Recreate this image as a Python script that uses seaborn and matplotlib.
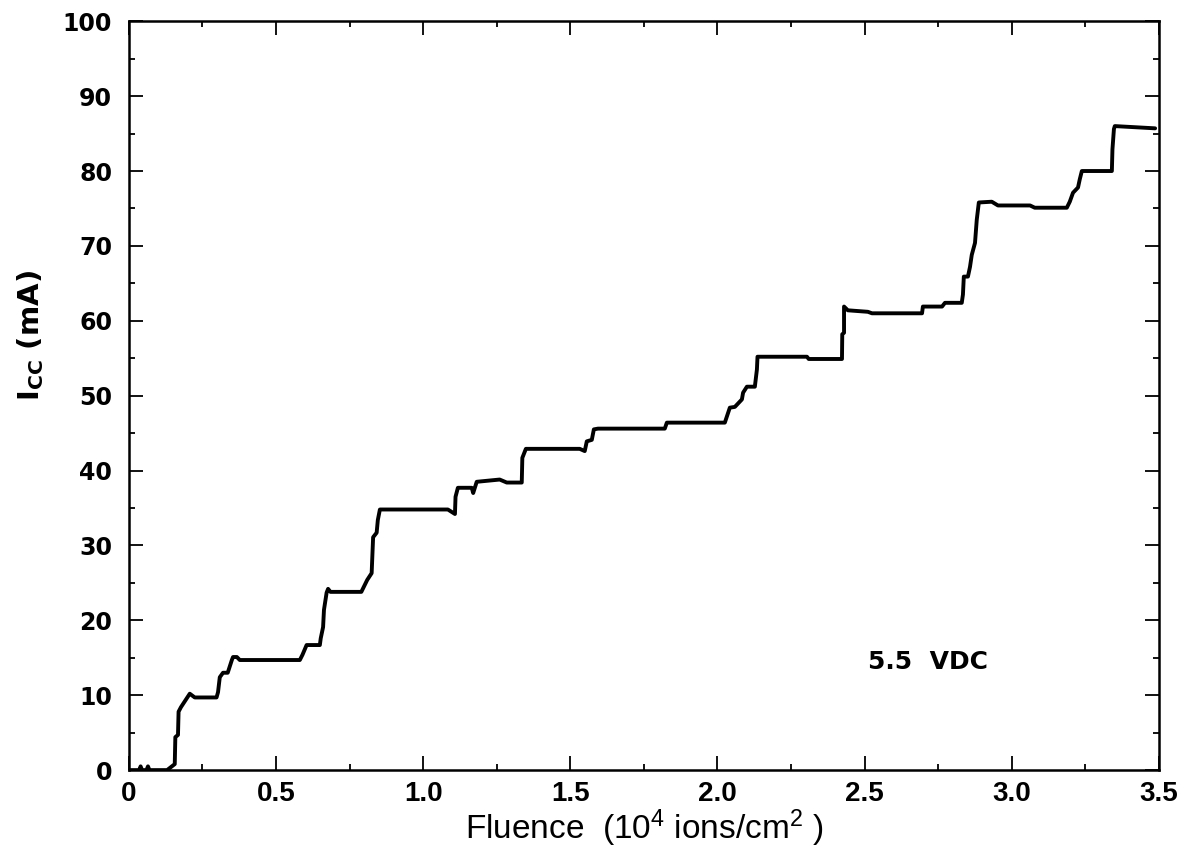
import numpy as np
import pandas as pd
import seaborn as sns
import matplotlib
matplotlib.use("Agg")
from matplotlib import pyplot as plt
from matplotlib.ticker import MultipleLocator

fluence = [0.0, 0.035, 0.04, 0.045, 0.06, 0.065, 0.07, 0.13, 0.156, 0.158,
           0.167, 0.169, 0.177, 0.207, 0.224, 0.298, 0.303, 0.309, 0.320, 0.336,
           0.350, 0.354, 0.367, 0.377, 0.581, 0.590, 0.604, 0.649, 0.652, 0.660,
           0.663, 0.672, 0.677, 0.685, 0.790, 0.810, 0.825, 0.830, 0.842, 0.846,
           0.853, 1.084, 1.108, 1.110, 1.118, 1.165, 1.170, 1.182, 1.260, 1.284,
           1.335, 1.337, 1.349, 1.532, 1.549, 1.556, 1.573, 1.580, 1.594, 1.821,
           1.828, 2.025, 2.042, 2.059, 2.083, 2.087, 2.100, 2.127, 2.134, 2.136,
           2.304, 2.310, 2.423, 2.424, 2.430, 2.430, 2.443, 2.511, 2.525, 2.695,
           2.698, 2.763, 2.773, 2.830, 2.834, 2.837, 2.851, 2.858, 2.864, 2.875,
           2.881, 2.888, 2.932, 2.953, 3.062, 3.078, 3.187, 3.197, 3.208, 3.225,
           3.231, 3.238, 3.340, 3.342, 3.347, 3.350, 3.487]
icc = [0.0, 0.0, 0.5, 0.0, 0.0, 0.5, 0.0, 0.0, 0.8, 4.4,
       4.7, 7.8, 8.4, 10.2, 9.7, 9.7, 10.4, 12.4, 13.0, 13.0,
       14.7, 15.1, 15.1, 14.7, 14.7, 15.4, 16.7, 16.7, 17.6, 19.1,
       21.4, 23.7, 24.2, 23.8, 23.8, 25.4, 26.3, 31.1, 31.7, 33.4,
       34.8, 34.8, 34.2, 36.5, 37.7, 37.7, 37.0, 38.5, 38.8, 38.4,
       38.4, 41.7, 42.9, 42.9, 42.6, 43.9, 44.1, 45.5, 45.6, 45.6,
       46.4, 46.4, 48.4, 48.5, 49.5, 50.4, 51.2, 51.2, 53.5, 55.2,
       55.2, 54.9, 54.9, 58.2, 58.4, 61.9, 61.4, 61.2, 61.0, 61.0,
       61.9, 61.9, 62.4, 62.4, 63.5, 65.9, 65.9, 67.2, 68.8, 70.4,
       73.5, 75.8, 75.9, 75.4, 75.4, 75.1, 75.1, 75.9, 77.1, 77.8,
       78.9, 80.0, 80.0, 82.9, 85.6, 86.0, 85.7]

xticks = [0, 0.5, 1.0, 1.5, 2.0, 2.5, 3.0, 3.5]
xticklabels = ["0", "0.5", "1.0", "1.5", "2.0", "2.5", "3.0", "3.5"]
yticks = list(range(0, 101, 10))

df = pd.DataFrame({"fluence": fluence, "icc": icc})

sns.set_style("ticks")
plt.rcParams["mathtext.default"] = "regular"
plt.rcParams["text.color"] = "black"
plt.rcParams["axes.labelcolor"] = "black"

fig = plt.figure(figsize=(11.82, 8.5), dpi=100)
ax = fig.add_axes([0.109, 0.094, 0.8715, 0.881])

sns.lineplot(data=df, x="fluence", y="icc", sort=False, estimator=None,
             color="black", lw=2.8, ax=ax)

ax.set_xlim(0, 3.5)
ax.set_ylim(0, 100)
ax.set_xticks(xticks)
ax.set_xticklabels(xticklabels, family="Liberation Sans",
                   fontsize=20, fontweight="bold")
ax.set_yticks(yticks)
ax.set_yticklabels([str(v) for v in yticks], family="DejaVu Sans",
                   fontsize=17, fontweight="bold")
ax.xaxis.set_minor_locator(MultipleLocator(0.25))
ax.yaxis.set_minor_locator(MultipleLocator(5))
ax.tick_params(which="both", direction="in", top=True, right=True, width=1.3,
               color="black", labelcolor="black")
ax.tick_params(which="major", length=10)
ax.tick_params(axis="x", which="major", pad=8)
ax.tick_params(axis="y", which="major", pad=12)
ax.tick_params(which="minor", length=4)
for s in ax.spines.values():
    s.set_linewidth(1.8)
    s.set_color("black")

ax.set_xlabel("Fluence  (10$^{4}$ ions/cm$^{2}$ )", fontsize=24,
              family="Liberation Sans", labelpad=0)
ax.set_ylabel("I$_{CC}$ (mA)", fontsize=21, fontweight="bold",
              family="DejaVu Sans")
ax.yaxis.set_label_coords(-0.08, 0.58)

ax.text(2.715, 14.4, "5.5  VDC", fontsize=18, fontweight="bold",
        family="DejaVu Sans", ha="center", va="center")

fig.savefig("out.png", dpi=100, facecolor="white")
